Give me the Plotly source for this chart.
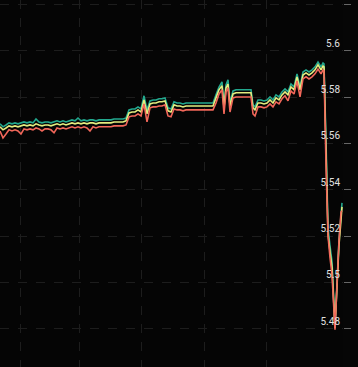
import plotly.graph_objects as go

# time index (minutes)
t = [0, 3, 6, 9, 12, 15, 18, 21, 24, 27,
     30, 33, 36, 39, 42, 45, 48, 51, 54, 57,
     60, 63, 66, 69, 72, 75, 78, 81, 84, 87,
     90, 93, 96, 99, 102, 105, 108, 111, 114, 117,
     120, 123, 126, 129, 132, 135, 138, 141, 144, 147,
     150, 153, 156, 159, 162, 165, 168, 171, 174, 177,
     180, 183, 186, 189, 192, 195, 198, 201, 204, 207,
     210, 213, 216, 219, 222, 224, 226, 228, 230, 233,
     236, 239, 242, 245, 248, 251, 253, 255, 258, 261,
     264, 267, 270, 273, 276, 279, 282, 285, 288, 291,
     294, 297, 300, 303, 306, 309, 312, 315, 318, 321,
     323, 324, 326, 328, 330, 332, 335, 337, 339, 341,
     342]

ask = [5.5685, 5.5672, 5.5680, 5.5689, 5.5685, 5.5689, 5.5685, 5.5689, 5.5693, 5.5689,
       5.5693, 5.5689, 5.5706, 5.5693, 5.5689, 5.5693, 5.5693, 5.5689, 5.5693, 5.5698,
       5.5693, 5.5698, 5.5693, 5.5698, 5.5702, 5.5698, 5.5710, 5.5698, 5.5702, 5.5698,
       5.5702, 5.5702, 5.5698, 5.5702, 5.5702, 5.5702, 5.5702, 5.5702, 5.5706, 5.5706,
       5.5706, 5.5706, 5.5710, 5.5745, 5.5749, 5.5749, 5.5758, 5.5749, 5.5806, 5.5745,
       5.5784, 5.5788, 5.5788, 5.5793, 5.5793, 5.5797, 5.5754, 5.5749, 5.5780, 5.5775,
       5.5775, 5.5771, 5.5775, 5.5775, 5.5775, 5.5775, 5.5775, 5.5775, 5.5775, 5.5775,
       5.5775, 5.5775, 5.5810, 5.5844, 5.5866, 5.5767, 5.5853, 5.5875, 5.5775, 5.5827,
       5.5832, 5.5832, 5.5832, 5.5832, 5.5832, 5.5832, 5.5767, 5.5758, 5.5788, 5.5788,
       5.5784, 5.5788, 5.5801, 5.5788, 5.5810, 5.5801, 5.5823, 5.5836, 5.5823, 5.5857,
       5.5844, 5.5901, 5.5844, 5.5909, 5.5918, 5.5909, 5.5918, 5.5931, 5.5952, 5.5931,
       5.5948, 5.5944, 5.5615, 5.5235, 5.5158, 5.5088, 5.4812, 5.5032, 5.5183, 5.5291,
       5.5343]

mid = [5.5672, 5.5659, 5.5667, 5.5676, 5.5672, 5.5676, 5.5672, 5.5676, 5.5680, 5.5676,
       5.5680, 5.5676, 5.5685, 5.5680, 5.5676, 5.5680, 5.5680, 5.5676, 5.5680, 5.5685,
       5.5680, 5.5685, 5.5680, 5.5685, 5.5689, 5.5685, 5.5689, 5.5685, 5.5689, 5.5685,
       5.5689, 5.5689, 5.5685, 5.5689, 5.5689, 5.5689, 5.5689, 5.5689, 5.5693, 5.5693,
       5.5693, 5.5693, 5.5698, 5.5732, 5.5736, 5.5736, 5.5745, 5.5736, 5.5788, 5.5728,
       5.5771, 5.5775, 5.5775, 5.5780, 5.5780, 5.5784, 5.5741, 5.5736, 5.5767, 5.5762,
       5.5762, 5.5758, 5.5762, 5.5762, 5.5762, 5.5762, 5.5762, 5.5762, 5.5762, 5.5762,
       5.5762, 5.5762, 5.5797, 5.5832, 5.5849, 5.5754, 5.5840, 5.5857, 5.5762, 5.5814,
       5.5819, 5.5819, 5.5819, 5.5819, 5.5819, 5.5819, 5.5754, 5.5745, 5.5775, 5.5775,
       5.5771, 5.5775, 5.5788, 5.5775, 5.5797, 5.5788, 5.5810, 5.5823, 5.5810, 5.5844,
       5.5832, 5.5888, 5.5832, 5.5896, 5.5905, 5.5896, 5.5905, 5.5918, 5.5940, 5.5918,
       5.5935, 5.5931, 5.5572, 5.5209, 5.5132, 5.5063, 5.4803, 5.5011, 5.5162, 5.5270,
       5.5326]

bid = [5.5654, 5.5624, 5.5641, 5.5659, 5.5654, 5.5659, 5.5654, 5.5641, 5.5663, 5.5659,
       5.5663, 5.5659, 5.5667, 5.5663, 5.5654, 5.5663, 5.5663, 5.5659, 5.5646, 5.5667,
       5.5663, 5.5667, 5.5663, 5.5667, 5.5672, 5.5667, 5.5672, 5.5667, 5.5672, 5.5667,
       5.5654, 5.5672, 5.5667, 5.5672, 5.5672, 5.5672, 5.5672, 5.5672, 5.5676, 5.5676,
       5.5676, 5.5676, 5.5680, 5.5715, 5.5719, 5.5719, 5.5728, 5.5719, 5.5771, 5.5693,
       5.5754, 5.5758, 5.5758, 5.5762, 5.5762, 5.5767, 5.5719, 5.5715, 5.5749, 5.5745,
       5.5745, 5.5741, 5.5745, 5.5745, 5.5745, 5.5745, 5.5745, 5.5745, 5.5745, 5.5745,
       5.5745, 5.5745, 5.5775, 5.5814, 5.5832, 5.5728, 5.5823, 5.5840, 5.5736, 5.5797,
       5.5801, 5.5801, 5.5801, 5.5801, 5.5801, 5.5801, 5.5728, 5.5719, 5.5758, 5.5758,
       5.5754, 5.5758, 5.5771, 5.5758, 5.5780, 5.5771, 5.5793, 5.5806, 5.5784, 5.5827,
       5.5814, 5.5870, 5.5801, 5.5879, 5.5888, 5.5879, 5.5888, 5.5901, 5.5922, 5.5901,
       5.5918, 5.5914, 5.5507, 5.5201, 5.5106, 5.5032, 5.4795, 5.4989, 5.5183, 5.5304,
       5.5309]

y_ticks = [5.48, 5.5, 5.52, 5.54, 5.56, 5.58, 5.6, 5.62]
y_labels = ["5.48", "5.5", "5.52", "5.54", "5.56", "5.58", "5.6", ""]
x_grid = [20.7, 79.3, 141.7, 204, 266.7, 330]

fig = go.Figure()
for vals, col in [(ask, "#22a88e"), (mid, "#e4ee80"), (bid, "#f2675a")]:
    fig.add_trace(go.Scatter(x=t, y=vals, mode="lines",
                             line=dict(color=col, width=1.6),
                             showlegend=False, hoverinfo="skip"))

fig.update_layout(
    width=358, height=367,
    margin=dict(l=0, r=15, t=0, b=0),
    paper_bgcolor="#060606",
    plot_bgcolor="#050505",
    font=dict(family="Roboto, Arial, sans-serif"),
    xaxis=dict(range=[0, 343], tickvals=x_grid, showticklabels=False,
               showgrid=True, gridcolor="#1d1d1d", griddash="dash", gridwidth=1,
               zeroline=False, showline=False, ticks=""),
    yaxis=dict(side="right", range=[5.4634, 5.622],
               tickvals=y_ticks, ticktext=y_labels,
               ticklabelposition="inside top",
               ticks="outside", ticklen=7, tickcolor="#666", tickwidth=1,
               tickfont=dict(size=10, color="#e0e0e0"),
               showgrid=True, gridcolor="#1d1d1d", griddash="dash", gridwidth=1,
               zeroline=False, showline=False),
)

fig.write_html("out.html")
